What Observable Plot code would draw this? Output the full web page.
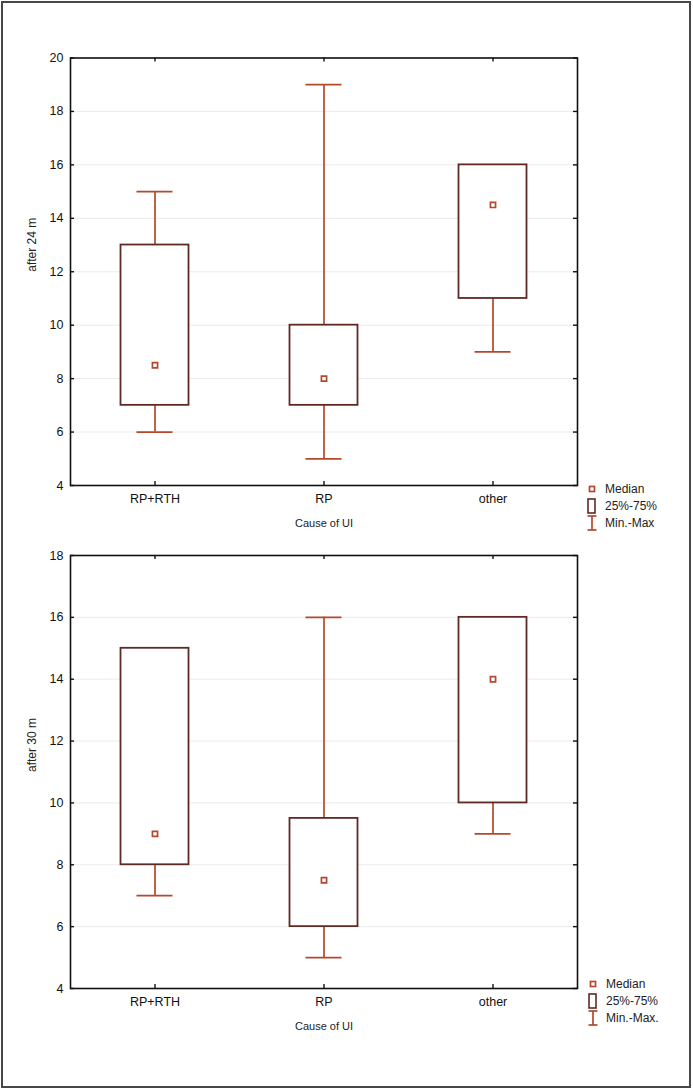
<!DOCTYPE html>
<html>
<head>
<meta charset="utf-8">
<script src="https://cdn.jsdelivr.net/npm/d3@7"></script>
<script src="https://cdn.jsdelivr.net/npm/@observablehq/plot@0.6"></script>
<style>
  html, body { margin: 0; padding: 0; background: #fff; }
  #wrap { position: relative; width: 693px; height: 1090px; background: #fff; font-family: "Liberation Sans", Arial, sans-serif; }
  #border { position: absolute; left: 1px; top: 1px; width: 690px; height: 1087px; box-sizing: border-box; border: 2px solid #474747; pointer-events: none; z-index: 5; }
  .panel { position: absolute; left: 0; }
</style>
</head>
<body>
<div id="wrap">
  <div id="p1" class="panel" style="top:0px"></div>
  <div id="p2" class="panel" style="top:540px"></div>
  <div id="border"></div>
</div>
<script>
// ---- data ----
const causes = ["RP+RTH", "RP", "other"];

const min24 = [6, 5, 9];
const q1_24 = [7, 7, 11];
const med24 = [8.5, 8, 14.5];
const q3_24 = [13, 10, 16];
const max24 = [15, 19, 16];

const min30 = [7, 5, 9];
const q1_30 = [8, 6, 10];
const med30 = [9, 7.5, 14];
const q3_30 = [15, 9.5, 16];
const max30 = [15, 16, 16];

const yTicks24 = [4, 6, 8, 10, 12, 14, 16, 18, 20];
const yTicks30 = [4, 6, 8, 10, 12, 14, 16, 18];

const yLabel24 = "after 24 m";
const yLabel30 = "after 30 m";
const xLabel = "Cause of UI";
const legendLabels = ["Median", "25%-75%"];
const legendMinMax24 = "Min.-Max";
const legendMinMax30 = "Min.-Max.";

const rust = "#b4482c";
const boxCol = "#5e2a26";
const font = "'Liberation Sans', Arial, sans-serif";

function rows(mins, q1s, meds, q3s, maxs) {
  return causes.map((c, i) => ({cause: c, min: mins[i], q1: q1s[i], median: meds[i], q3: q3s[i], max: maxs[i]}));
}

function panel({data, yDomain, yTicks, yLabel, height, marginTop, marginBottom}) {
  const width = 693, marginLeft = 70, marginRight = 116;
  const W = width - marginLeft - marginRight;
  const H = height - marginTop - marginBottom;
  const step = W / causes.length;
  const boxInset = (step - 68) / 2;
  const capInset = (step - 36) / 2;
  return Plot.plot({
    width, height, marginLeft, marginRight, marginTop, marginBottom,
    style: {fontFamily: font, fontSize: "12px", background: "transparent", color: "#111", overflow: "visible"},
    x: {type: "band", domain: causes, padding: 0, label: null},
    y: {domain: yDomain, label: null},
    marks: [
      Plot.gridY(yTicks, {stroke: "#ebebeb", strokeOpacity: 1, strokeWidth: 1}),
      // whiskers
      Plot.ruleX(data, {x: "cause", y1: "min", y2: "q1", stroke: rust, strokeWidth: 1.7}),
      Plot.ruleX(data, {x: "cause", y1: "q3", y2: "max", stroke: rust, strokeWidth: 1.7}),
      Plot.tickY(data, {x: "cause", y: "min", stroke: rust, strokeWidth: 1.7, insetLeft: capInset, insetRight: capInset}),
      Plot.tickY(data, {x: "cause", y: "max", stroke: rust, strokeWidth: 1.7, insetLeft: capInset, insetRight: capInset}),
      // boxes
      Plot.barY(data, {x: "cause", y1: "q1", y2: "q3", fill: "white", stroke: boxCol, strokeWidth: 1.8, insetLeft: boxInset, insetRight: boxInset}),
      // medians
      Plot.dot(data, {x: "cause", y: "median", symbol: "square", r: 2.9, fill: "white", stroke: rust, strokeWidth: 1.7}),
      // frame
      Plot.frame({stroke: "#111", strokeWidth: 1.6}),
      // inward ticks
      Plot.tickY(yTicks, {y: d => d, insetRight: W - 4, stroke: "#111", strokeWidth: 1.4}),
      Plot.tickY(yTicks, {y: d => d, insetLeft: W - 4, stroke: "#111", strokeWidth: 1.4}),
      Plot.tickX(causes, {x: d => d, insetBottom: H - 4, stroke: "#111", strokeWidth: 1.4}),
      Plot.tickX(causes, {x: d => d, insetTop: H - 4, stroke: "#111", strokeWidth: 1.4}),
      // axes (labels only)
      Plot.axisY({ticks: yTicks, tickSize: 0, tickPadding: 7, fontSize: 12.5, label: null}),
      Plot.axisX({tickSize: 0, tickPadding: 9, fontSize: 12.5, label: null}),
      // axis titles
      Plot.text([yLabel], {text: d => d, frameAnchor: "left", dx: -38, rotate: -90, fontSize: 12, fill: "#222"}),
      Plot.text([xLabel], {text: d => d, frameAnchor: "bottom", dy: 41, fontSize: 11, fill: "#222"})
    ]
  });
}

document.getElementById("p1").appendChild(panel({
  data: rows(min24, q1_24, med24, q3_24, max24),
  yDomain: [4, 20], yTicks: yTicks24, yLabel: yLabel24,
  height: 540, marginTop: 57.5, marginBottom: 55
}));
document.getElementById("p2").appendChild(panel({
  data: rows(min30, q1_30, med30, q3_30, max30),
  yDomain: [4, 18], yTicks: yTicks30, yLabel: yLabel30,
  height: 500, marginTop: 15, marginBottom: 52
}));

// legends
function legend(x0, y0, minMaxLabel) {
  const svg = d3.create("svg").attr("width", 110).attr("height", 60)
    .style("position", "absolute").style("left", x0 + "px").style("top", y0 + "px").style("z-index", 4);
  svg.append("rect").attr("x", 5.5).attr("y", 5.5).attr("width", 5).attr("height", 5)
    .attr("fill", "white").attr("stroke", rust).attr("stroke-width", 1.7);
  svg.append("rect").attr("x", 4).attr("y", 18).attr("width", 7).attr("height", 14)
    .attr("fill", "white").attr("stroke", boxCol).attr("stroke-width", 1.6);
  svg.append("line").attr("x1", 3.5).attr("x2", 12.5).attr("y1", 35).attr("y2", 35).attr("stroke", rust).attr("stroke-width", 1.7);
  svg.append("line").attr("x1", 8).attr("x2", 8).attr("y1", 35).attr("y2", 49).attr("stroke", rust).attr("stroke-width", 1.7);
  svg.append("line").attr("x1", 3.5).attr("x2", 12.5).attr("y1", 49).attr("y2", 49).attr("stroke", rust).attr("stroke-width", 1.7);
  const labels = [legendLabels[0], legendLabels[1], minMaxLabel];
  const ys = [8, 25, 42];
  labels.forEach((t, i) => {
    svg.append("text").attr("x", 21).attr("y", ys[i]).attr("dy", "0.35em")
      .attr("font-family", font).attr("font-size", 12).attr("fill", "#222").text(t);
  });
  document.getElementById("wrap").appendChild(svg.node());
}
legend(584, 481, legendMinMax24);
legend(585, 976, legendMinMax30);
</script>
</body>
</html>
